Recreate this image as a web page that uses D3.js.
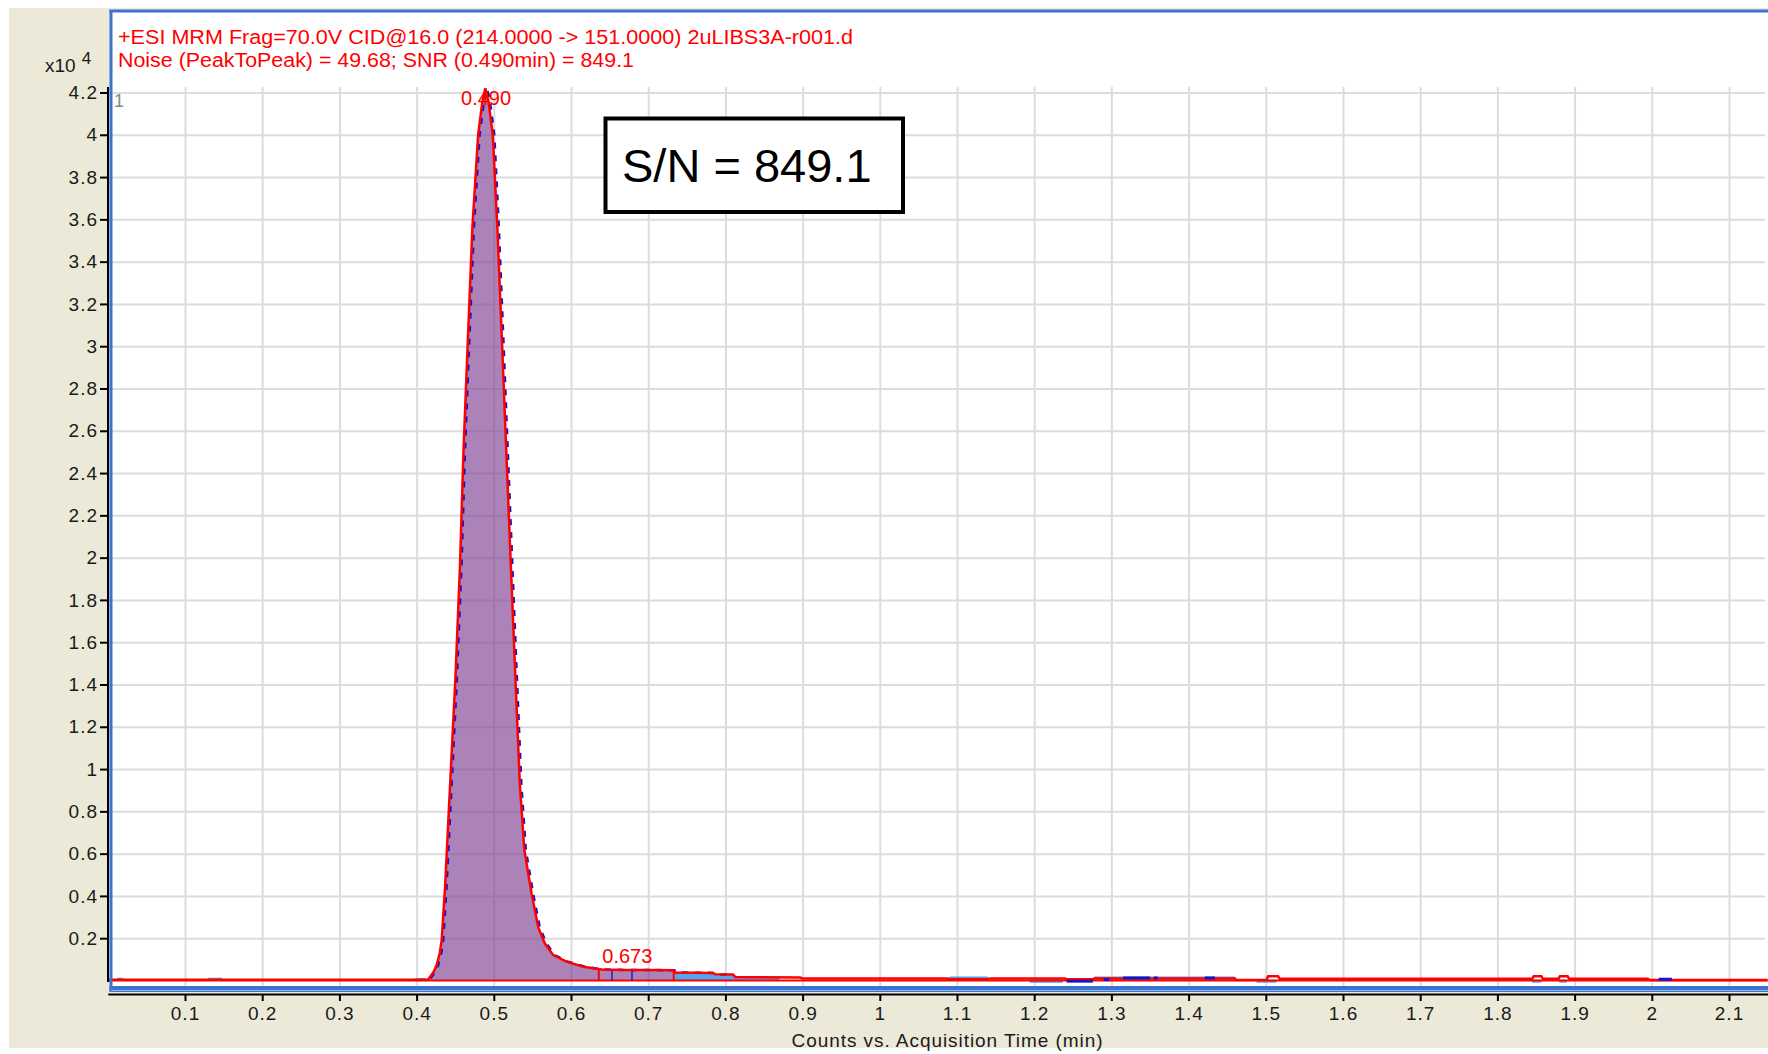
<!DOCTYPE html>
<html>
<head>
  <title>MRM chromatogram</title>
  <script src="https://d3js.org/d3.v7.min.js"></script>
  <style>
    body { margin: 0; background: #fff; }
    text { font-family: "Liberation Sans", Arial, sans-serif; }
    .gridlines line { stroke: #dcdcdc; stroke-width: 2; }
    .gridlines .domain { stroke: none; }
    .axis .domain, .axis line { stroke: #000; stroke-width: 2; }
    .axis text { font-size: 19px; fill: #1a1a1a; letter-spacing: 1px; }
  </style>
</head>
<body>
<svg id="chart" width="1768" height="1054"></svg>
<script>
  // time (min) and counts (x10^4) of the smoothed trace
  const traceTimes = [0, 0.405, 0.415, 0.422, 0.426, 0.430, 0.4325, 0.437, 0.4417, 0.4504,
    0.4563, 0.4607, 0.4665, 0.4724, 0.4797, 0.485, 0.489, 0.493, 0.4987, 0.5045,
    0.5104, 0.5162, 0.522, 0.5279, 0.5337, 0.5395, 0.5426, 0.549, 0.5577, 0.566,
    0.577, 0.594, 0.616, 0.629, 0.640, 0.668, 0.700, 0.732, 0.735, 0.784,
    0.787, 0.810, 0.813, 0.897, 0.900, 1.000, 1.088, 1.090, 1.140, 1.142,
    1.240, 1.242, 1.276, 1.278, 1.460, 1.462, 1.501, 1.503, 1.516, 1.518,
    1.845, 1.847, 1.857, 1.859, 1.879, 1.881, 1.891, 1.893, 1.995, 1.997, 2.15];
  const traceCounts = [0.003, 0.003, 0.005, 0.04, 0.073, 0.13, 0.19, 0.45, 0.80, 1.44,
    1.97, 2.50, 3.04, 3.57, 4.00, 4.15, 4.22, 4.16, 4.00, 3.57,
    3.04, 2.50, 1.97, 1.44, 0.93, 0.62, 0.55, 0.41, 0.25, 0.176,
    0.12, 0.089, 0.065, 0.058, 0.052, 0.050, 0.050, 0.048, 0.038, 0.036,
    0.029, 0.028, 0.016, 0.014, 0.010, 0.010, 0.010, 0.006, 0.006, 0.010,
    0.010, 0.006, 0.006, 0.009, 0.009, 0.002, 0.003, 0.020, 0.020, 0.008,
    0.008, 0.020, 0.020, 0.008, 0.008, 0.020, 0.020, 0.008, 0.008, 0.002, 0.002];

  // raw data noise pieces near the baseline: [start, end, counts x10^4]
  const lightNoise = [[0.012, 0.020, 0.006], [0.130, 0.148, 0.006], [0.398, 0.412, 0.004],
    [1.090, 1.140, 0.012], [1.194, 1.237, -0.003], [1.278, 1.460, 0.012],
    [1.488, 1.514, -0.003], [1.845, 1.857, -0.003], [1.880, 1.890, -0.003]];
  const darkNoise = [[1.242, 1.276, -0.003], [1.290, 1.297, 0.004], [1.315, 1.350, 0.012],
    [1.355, 1.360, 0.012], [1.421, 1.434, 0.012], [2.009, 2.026, 0.006]];

  // integration
  const peakStart = 0.41, smallStart = 0.636, peakEnd = 0.733, tailEnd = 0.87;
  const rawSplits = [0.653, 0.679];
  const peakTimes = [0.490, 0.673];

  const xTicks = [0.1, 0.2, 0.3, 0.4, 0.5, 0.6, 0.7, 0.8, 0.9, 1, 1.1, 1.2, 1.3, 1.4, 1.5,
    1.6, 1.7, 1.8, 1.9, 2, 2.1];
  const yTicks = [0.2, 0.4, 0.6, 0.8, 1, 1.2, 1.4, 1.6, 1.8, 2, 2.2, 2.4, 2.6, 2.8, 3, 3.2,
    3.4, 3.6, 3.8, 4, 4.2];

  const titleLines = ["+ESI MRM Frag=70.0V CID@16.0 (214.0000 -> 151.0000) 2uLIBS3A-r001.d",
    "Noise (PeakToPeak) = 49.68; SNR (0.490min) = 849.1"];
  const snrText = "S/N = 849.1";
  const xTitle = "Counts vs. Acquisition Time (min)";

  let svg = d3.select("#chart");
  let width = 1768, height = 1054;
  let box = {left: 111, top: 11, bottom: 988};   // white plot box
  let gridTop = 87;

  let xScale = d3.scaleLinear().domain([0, 2.15]).range([107.8, 1767.6]);
  let yScale = d3.scaleLinear().domain([0, 4.2]).range([980.5, 92.5]);
  let traceAt = d3.scaleLinear().domain(traceTimes).range(traceCounts);

  let points = traceTimes.map((t, i) => ({t: t, v: traceCounts[i]}));
  function slice(a, b) {
    let inner = points.filter(p => p.t > a && p.t < b);
    return [{t: a, v: traceAt(a)}].concat(inner, [{t: b, v: traceAt(b)}]);
  }

  // background panels
  svg.append("rect").attr("x", 9).attr("y", 8).attr("width", width - 9).attr("height", 1040)
    .attr("fill", "#ece9d8");
  svg.append("rect").attr("x", box.left).attr("y", box.top)
    .attr("width", width - box.left).attr("height", box.bottom - box.top).attr("fill", "#fff");

  // grid
  svg.append("g").attr("class", "gridlines")
    .attr("transform", `translate(0, ${box.bottom - 2})`)
    .call(d3.axisBottom(xScale).tickValues(xTicks).tickSize(-(box.bottom - 2 - gridTop)).tickFormat(""));
  svg.append("g").attr("class", "gridlines")
    .attr("transform", `translate(${box.left + 2}, 0)`)
    .call(d3.axisLeft(yScale).tickValues(yTicks).tickSize(-(width - box.left)).tickFormat(""))
    .selectAll("line").attr("transform", `translate(${-(box.left + 2 - 108)}, 0)`);

  let area = d3.area().x(d => xScale(d.t)).y0(yScale(0)).y1(d => yScale(d.v));
  let line = d3.line().x(d => xScale(d.t)).y(d => yScale(d.v));

  // filled peak and the light blue tail
  svg.append("path").datum(slice(peakStart, peakEnd)).attr("d", area)
    .attr("fill", "rgb(128,64,148)").attr("fill-opacity", 0.65);
  svg.append("path").datum(slice(peakEnd, tailEnd)).attr("d", area)
    .attr("fill", "#55a5ee");

  // raw data, dark blue dashes peeking out of the smoothed line
  svg.append("path").datum(slice(0.40, 0.80)).attr("d", line)
    .attr("transform", "translate(1.5, 0)")
    .attr("fill", "none").attr("stroke", "#1414c8").attr("stroke-width", 2.5)
    .attr("stroke-dasharray", "6,7");

  // noise pieces
  function noise(list, color) {
    svg.append("g").selectAll("line").data(list).enter().append("line")
      .attr("x1", d => xScale(d[0])).attr("x2", d => xScale(d[1]))
      .attr("y1", d => yScale(d[2])).attr("y2", d => yScale(d[2]))
      .attr("stroke", color).attr("stroke-width", 3);
  }
  noise(lightNoise, "#4aa0ee");

  // red baseline and the integration box of the small peak
  svg.append("line").attr("x1", xScale(0)).attr("x2", xScale(2.15))
    .attr("y1", yScale(0)).attr("y2", yScale(0))
    .attr("stroke", "#ff0000").attr("stroke-width", 2);
  svg.append("g").selectAll("line").data([smallStart, peakEnd]).enter().append("line")
    .attr("x1", d => xScale(d)).attr("x2", d => xScale(d))
    .attr("y1", yScale(0)).attr("y2", d => yScale(traceAt(d)))
    .attr("stroke", "#ff0000").attr("stroke-width", 2);
  svg.append("g").selectAll("line").data(rawSplits).enter().append("line")
    .attr("x1", d => xScale(d)).attr("x2", d => xScale(d))
    .attr("y1", yScale(0)).attr("y2", d => yScale(traceAt(d)))
    .attr("stroke", "#2020b0").attr("stroke-width", 1.5);

  // smoothed trace
  svg.append("path").datum(points).attr("d", line)
    .attr("fill", "none").attr("stroke", "#ff0000").attr("stroke-width", 2.5);
  noise(darkNoise, "#1414c8");

  // peak labels
  svg.append("g").selectAll("text").data(peakTimes).enter().append("text")
    .attr("x", d => xScale(d))
    .attr("y", d => Math.max(yScale(traceAt(d)) - 7, yScale(4.2) + 12.5))
    .attr("text-anchor", "middle").attr("font-size", 20).attr("fill", "#ff0000")
    .text(d => d3.format(".3f")(d));

  // plot box border (blue)
  svg.append("line").attr("x1", box.left).attr("x2", box.left).attr("y1", box.top - 1).attr("y2", box.bottom + 3)
    .attr("stroke", "#3b73cf").attr("stroke-width", 3);
  svg.append("line").attr("x1", box.left - 1.5).attr("x2", width).attr("y1", box.top).attr("y2", box.top)
    .attr("stroke", "#3b73cf").attr("stroke-width", 3);
  svg.append("rect").attr("x", box.left - 1.5).attr("y", box.bottom - 2).attr("width", width).attr("height", 6)
    .attr("fill", "#3b73cf");
  svg.append("line").attr("x1", box.left).attr("x2", width).attr("y1", box.bottom + 2.5).attr("y2", box.bottom + 2.5)
    .attr("stroke", "#8fb2ea").attr("stroke-width", 1);

  // axes
  let yAxis = svg.append("g").attr("class", "axis").attr("transform", "translate(108, 0)")
    .call(d3.axisLeft(yScale).tickValues(yTicks).tickSize(8).tickSizeOuter(0).tickPadding(2)
      .tickFormat(d => String(d)));
  yAxis.select(".domain").attr("d", `M0,${gridTop}V982`);
  svg.append("g").attr("class", "axis").attr("transform", "translate(0, 994)")
    .call(d3.axisBottom(xScale).tickValues(xTicks).tickSize(7).tickSizeOuter(0).tickPadding(6)
      .tickFormat(d => String(d)));

  svg.append("text").attr("x", 947).attr("y", 1047).attr("text-anchor", "middle")
    .attr("font-size", 19).attr("fill", "#1a1a1a").attr("textLength", 311).text(xTitle);

  // x10^4 multiplier
  let mult = svg.append("text").attr("x", 45).attr("y", 72).attr("font-size", 19).attr("fill", "#1a1a1a");
  mult.append("tspan").text("x10");
  mult.append("tspan").attr("dx", 6).attr("dy", -8).attr("font-size", 17).text("4");

  svg.append("text").attr("x", 114).attr("y", 107).attr("font-size", 18).attr("fill", "#8a8a8a").text("1");

  // red header
  svg.append("g").selectAll("text").data(titleLines).enter().append("text")
    .attr("x", 118).attr("y", (d, i) => 44 + i * 23)
    .attr("font-size", 20).attr("fill", "#ff0000")
    .attr("textLength", (d, i) => [735, 516][i]).attr("lengthAdjust", "spacingAndGlyphs")
    .text(d => d);

  // S/N box
  svg.append("rect").attr("x", 605.5).attr("y", 118.5).attr("width", 297.5).attr("height", 93.5)
    .attr("fill", "#fff").attr("stroke", "#000").attr("stroke-width", 4);
  svg.append("text").attr("x", 622).attr("y", 182).attr("font-size", 47).attr("fill", "#000").text(snrText);
</script>
</body>
</html>
